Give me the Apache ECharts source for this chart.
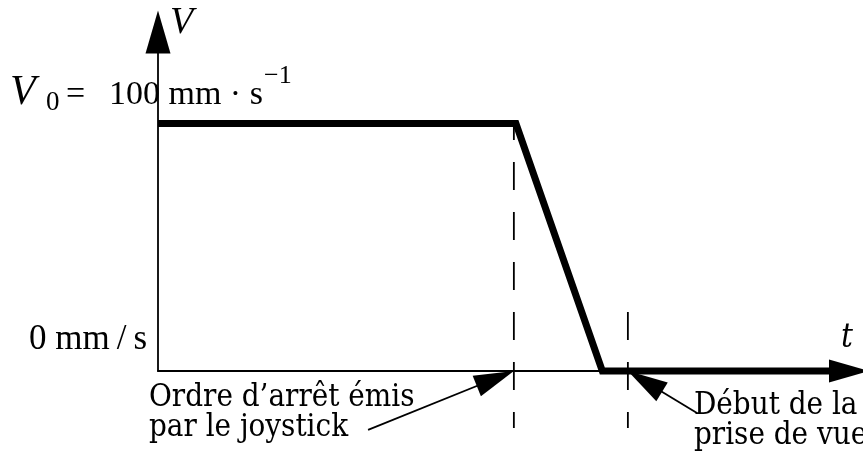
<!DOCTYPE html>
<html>
<head>
<meta charset="utf-8">
<script src="https://cdn.jsdelivr.net/npm/echarts@6/dist/echarts.min.js"></script>
<style>
  html, body { margin: 0; padding: 0; background: #fff; }
  #chart { width: 863px; height: 456px; }
</style>
</head>
<body>
<div id="chart"></div>
<script>
// profil de vitesse : t (unités arbitraires) / V (mm/s)
const profileT = [0, 51.8, 64.3, 100]
const profileV = [100, 100, 0, 0]

// repères en pointillés (instants)
const markT = [51.5, 68.0]
const markTop = [101, 23.8]
const markBottom = [-23, -23]

// flèches d'annotation : départ -> pointe
const arrowFrom = [[30.4, -23.8], [78.0, -17]]
const arrowTo = [[51.5, 0], [68.0, 0]]

const yMax = 137
const times = '"Liberation Serif", "Times New Roman", serif'
const schoolbook = '"DejaVu Serif Condensed", "DejaVu Serif", serif'
const headLen = 40

const chartDom = document.getElementById('chart')
const myChart = echarts.init(chartDom)

const lineData = profileT.map((t, i) => [t, profileV[i]])

const dashSeries = markT.map((t, i) => ({
    type: 'line',
    data: [[t, markTop[i]], [t, markBottom[i]]],
    showSymbol: false,
    silent: true,
    clip: false,
    z: 1,
    lineStyle: {
        color: '#000',
        width: 1.8,
        type: [28, 22],
        dashOffset: i === 0 ? 9 : 0
    }
}))

const arrowSeries = (coordsList) => ({
    id: 'arrows',
    type: 'lines',
    coordinateSystem: 'cartesian2d',
    clip: false,
    silent: true,
    z: 4,
    symbol: ['none', 'triangle'],
    symbolSize: [0, [22, headLen]],
    lineStyle: { color: '#000', width: 1.8, opacity: 1, curveness: 0 },
    data: coordsList.map(c => ({ coords: c }))
})

const txt = (x, y, text, font, extra) => ({
    type: 'text',
    x, y,
    silent: true,
    style: Object.assign({ text, font, fill: '#000', verticalAlign: 'middle' }, extra || {})
})

const option = {
    backgroundColor: '#fff',
    animation: false,
    grid: {
        left: 158,
        right: 14,
        top: 32,
        bottom: 85
    },
    xAxis: {
        type: 'value',
        min: 0,
        max: 100,
        axisLine: {
            show: true,
            symbol: ['none', 'triangle'],
            symbolSize: [23, 40],
            lineStyle: { color: '#000', width: 1.8 }
        },
        axisTick: { show: false },
        axisLabel: { show: false },
        splitLine: { show: false }
    },
    yAxis: {
        type: 'value',
        min: 0,
        max: yMax,
        axisLine: {
            show: true,
            symbol: ['none', 'triangle'],
            symbolSize: [25, 43],
            lineStyle: { color: '#000', width: 1.8 }
        },
        axisTick: { show: false },
        axisLabel: { show: false },
        splitLine: { show: false }
    },
    series: [
        ...dashSeries,
        {
            type: 'line',
            data: lineData,
            showSymbol: false,
            silent: true,
            clip: false,
            z: 3,
            lineStyle: { color: '#000', width: 7, join: 'miter', cap: 'butt' }
        },
        arrowSeries(arrowFrom.map((f, i) => [f, arrowTo[i]]))
    ],
    graphic: [
        txt(170, 23, 'V', 'italic 38px ' + times),
        // V0 = 100 mm·s-1
        txt(10, 93, 'V', 'italic 42px ' + times),
        txt(46, 103, '0', '27px ' + times),
        txt(66, 95.5, '=\u2002\u2009100 mm · s', '34px ' + times),
        txt(264, 76, '\u22121', '26px ' + times),
        txt(147, 340, '0 mm\u2009/\u2009s', '35px ' + times, { align: 'right' }),
        txt(841, 338, 't', 'italic 33px ' + schoolbook),
        txt(149, 383, 'Ordre d\u2019arrêt émis\npar le joystick', '31px ' + schoolbook, { lineHeight: 30, verticalAlign: 'top' }),
        txt(694, 391, 'Début de la\nprise de vue', '31px ' + schoolbook, { lineHeight: 30, verticalAlign: 'top' })
    ]
}

option && myChart.setOption(option)

// recule le centre de la pointe pour que son sommet touche la cible
const pullBack = (from, to, len) => {
    const a = myChart.convertToPixel({ gridIndex: 0 }, from)
    const b = myChart.convertToPixel({ gridIndex: 0 }, to)
    const dx = b[0] - a[0]
    const dy = b[1] - a[1]
    const d = Math.hypot(dx, dy)
    return myChart.convertFromPixel({ gridIndex: 0 }, [b[0] - dx / d * len / 2, b[1] - dy / d * len / 2])
}

myChart.setOption({
    series: [arrowSeries(arrowFrom.map((f, i) => [f, pullBack(f, arrowTo[i], headLen)]))]
})
</script>
</body>
</html>
